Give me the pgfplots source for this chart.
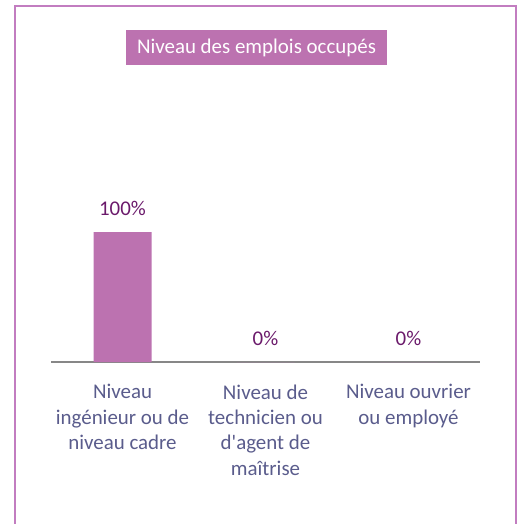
\documentclass[border=0pt]{standalone}
\usepackage{pgfplots}
\pgfplotsset{compat=1.18}
\usepackage{fontspec}
\setmainfont{Carlito}[Ligatures=TeXOff]
\definecolor{barc}{HTML}{BC72B0}
\definecolor{framec}{HTML}{C27DC0}
\definecolor{datac}{HTML}{6B1A6B}
\definecolor{tickc}{HTML}{5A5C8C}
\definecolor{axc}{HTML}{878787}
\begin{document}
\begin{tikzpicture}
\useasboundingbox (0,0) rectangle (522bp,-524bp);
\draw[framec, line width=2.5bp] (15bp,-524bp) -- (15bp,-6bp) -- (516bp,-6bp) -- (516bp,-524bp);
\node[fill=barc, text=white, font=\fontsize{21}{25}\selectfont, minimum width=261bp, minimum height=35bp, inner sep=0pt] at (256.5bp,-47.5bp) {Niveau des emplois occupés};
\begin{axis}[
  at={(51bp,-362bp)}, anchor=south west,
  scale only axis, width=429bp, height=130bp,
  xmin=-0.5, xmax=2.5, ymin=0, ymax=100,
  clip=false,
  ybar, bar width=58bp,
  axis y line=none,
  axis x line*=bottom,
  x axis line style={axc, line width=1.5bp, -},
  xtick={0,1,2}, major tick length=0pt,
  xticklabels={{Niveau\\ingénieur ou de\\niveau cadre},{Niveau de\\technicien ou\\d'agent de\\maîtrise},{Niveau ouvrier\\ou employé}},
  xticklabel style={align=center, text=tickc, font=\fontsize{21}{25.5}\selectfont, anchor=north, yshift=-19bp},
  /pgf/number format/assume math mode=true,
  nodes near coords={\pgfmathprintnumber{\pgfplotspointmeta}\%},
  every node near coord/.append style={anchor=base, yshift=17bp, text=datac, font=\fontsize{21}{25}\selectfont},
]
\addplot[fill=barc, draw=none] coordinates {(0,100) (1,0) (2,0)};
\end{axis}
\end{tikzpicture}
\end{document}
